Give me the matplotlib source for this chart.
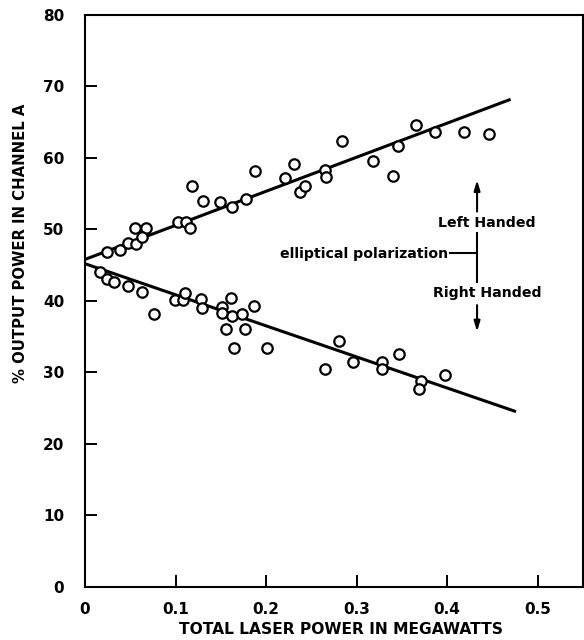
import matplotlib
matplotlib.use("Agg")
import matplotlib.pyplot as plt

# ! <--- data --->
upper_x = [0.024, 0.039, 0.048, 0.056, 0.055, 0.067, 0.063, 0.103, 0.111, 0.116,
           0.118, 0.130, 0.149, 0.162, 0.178, 0.188, 0.221, 0.231, 0.238, 0.243,
           0.265, 0.266, 0.284, 0.318, 0.340, 0.346, 0.366, 0.386, 0.419, 0.446]
upper_y = [46.9, 47.1, 48.1, 48.0, 50.2, 50.2, 48.9, 51.1, 51.1, 50.2,
           56.1, 54.0, 53.9, 53.2, 54.3, 58.2, 57.2, 59.2, 55.3, 56.1,
           58.3, 57.3, 62.4, 59.5, 57.5, 61.6, 64.6, 63.6, 63.6, 63.3]

lower_x = [0.017, 0.024, 0.032, 0.047, 0.063, 0.076, 0.099, 0.108, 0.110, 0.128,
           0.129, 0.151, 0.151, 0.161, 0.162, 0.156, 0.165, 0.173, 0.177, 0.187,
           0.201, 0.265, 0.280, 0.296, 0.328, 0.328, 0.347, 0.371, 0.369, 0.398]
lower_y = [44.1, 43.0, 42.7, 42.1, 41.2, 38.2, 40.1, 40.1, 41.1, 40.2,
           39.0, 39.1, 38.3, 40.4, 37.9, 36.1, 33.4, 38.2, 36.1, 39.3,
           33.4, 30.5, 34.4, 31.5, 31.5, 30.4, 32.6, 28.8, 27.6, 29.6]

# fitted straight lines (end points)
upper_fit_x = [0.0, 0.470]
upper_fit_y = [45.8, 68.2]
lower_fit_x = [0.0, 0.476]
lower_fit_y = [45.2, 24.5]

x_ticks = [0, 0.1, 0.2, 0.3, 0.4, 0.5]
x_tick_labels = ["0", "0.1", "0.2", "0.3", "0.4", "0.5"]
y_ticks = [0, 10, 20, 30, 40, 50, 60, 70, 80]

plt.rcParams['font.family'] = ['DejaVu Sans']
plt.rcParams['font.weight'] = 'bold'

fig = plt.figure(figsize = (5.84, 6.4), dpi = 100)
ax = fig.add_axes([85 / 584, 53.3 / 640, 498 / 584, 571.7 / 640])

# ! <--- fit lines and measured points --->
ax.plot(upper_fit_x, upper_fit_y, color = 'black', lw = 2.2, solid_capstyle = 'butt', zorder = 2)
ax.plot(lower_fit_x, lower_fit_y, color = 'black', lw = 2.2, solid_capstyle = 'butt', zorder = 2)
ax.plot(upper_x, upper_y, 'o', ms = 7.5, mfc = 'white', mec = 'black', mew = 1.6, zorder = 3)
ax.plot(lower_x, lower_y, 'o', ms = 7.5, mfc = 'white', mec = 'black', mew = 1.6, zorder = 3)

# ! <--- polarization annotation --->
ax.plot([0.433, 0.433], [42.7, 49.5], color = 'black', lw = 1.5)
ax.plot([0.403, 0.433], [46.7, 46.7], color = 'black', lw = 1.5)
ax.annotate('', xy = (0.433, 56.9), xytext = (0.433, 52.5),
            arrowprops = dict(arrowstyle = '-|>,head_length=0.6,head_width=0.18', color = 'black', lw = 1.5, shrinkA = 0, shrinkB = 0))
ax.annotate('', xy = (0.433, 35.7), xytext = (0.433, 39.4),
            arrowprops = dict(arrowstyle = '-|>,head_length=0.6,head_width=0.18', color = 'black', lw = 1.5, shrinkA = 0, shrinkB = 0))
ax.text(0.444, 50.9, 'Left Handed', ha = 'center', va = 'center', fontsize = 10.2, fontweight = 'bold')
ax.text(0.444, 41.1, 'Right Handed', ha = 'center', va = 'center', fontsize = 10.2, fontweight = 'bold')
ax.text(0.401, 46.6, 'elliptical polarization', ha = 'right', va = 'center', fontsize = 10.2, fontweight = 'bold')

# ! <--- axes styling --->
ax.set_xlim(0, 0.55)
ax.set_ylim(0, 80)
ax.set_xticks(x_ticks)
ax.set_xticklabels(x_tick_labels)
ax.set_yticks(y_ticks)
ax.tick_params(direction = 'in', length = 8.5, width = 1.4, labelsize = 11, pad = 11)
ax.tick_params(axis = 'y', pad = 15)
for s in ax.spines.values() :
    s.set_linewidth(1.5)

ax.set_xlabel('TOTAL LASER POWER IN MEGAWATTS', fontsize = 11.2, fontweight = 'bold')
ax.xaxis.set_label_coords(0.515, -0.062)
ax.set_ylabel('% OUTPUT POWER IN CHANNEL A', fontsize = 10.7, fontweight = 'bold')
ax.yaxis.set_label_coords(-0.114, 0.601)

fig.savefig('out.png', dpi = 100)
plt.close(fig)
